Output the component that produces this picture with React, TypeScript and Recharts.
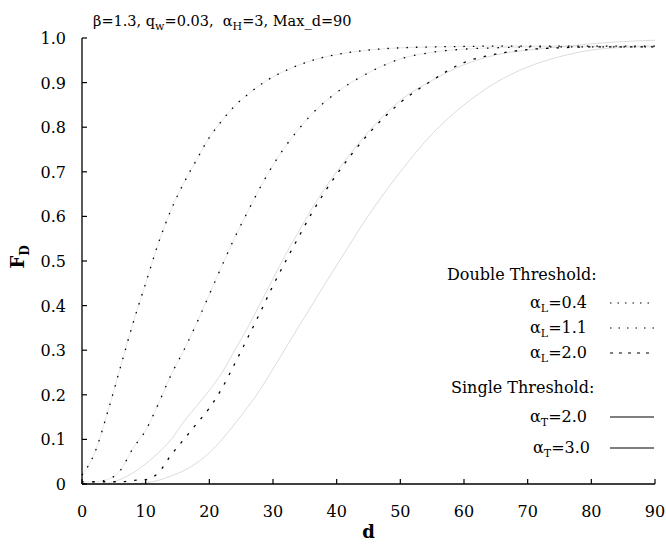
import { LineChart, Line, XAxis, YAxis, Legend } from "recharts";

const SERIF = "DejaVu Serif, serif";

// distance d (x axis)
const dValues = [0, 2, 4, 6, 8, 10, 12, 14, 16, 18, 20, 22, 24, 26, 28, 30, 32, 34, 36, 38, 40, 45, 50, 55, 60, 65, 70, 75, 80, 85, 90];

// double threshold
const alphaL04 = [0.02, 0.07, 0.16, 0.26, 0.36, 0.45, 0.54, 0.615, 0.675, 0.727, 0.777, 0.815, 0.848, 0.873, 0.895, 0.913, 0.927, 0.939, 0.949, 0.957, 0.963, 0.973, 0.978, 0.98, 0.981, 0.982, 0.982, 0.982, 0.982, 0.982, 0.982];
const alphaL11 = [0.005, 0.005, 0.01, 0.03, 0.08, 0.12, 0.18, 0.245, 0.3, 0.36, 0.425, 0.49, 0.553, 0.61, 0.665, 0.715, 0.758, 0.795, 0.828, 0.855, 0.878, 0.922, 0.953, 0.968, 0.975, 0.978, 0.98, 0.98, 0.98, 0.98, 0.98];
const alphaL20 = [0, 0.005, 0.005, 0.005, 0.008, 0.01, 0.025, 0.065, 0.1, 0.135, 0.17, 0.215, 0.27, 0.327, 0.385, 0.445, 0.5, 0.553, 0.605, 0.652, 0.694, 0.785, 0.855, 0.905, 0.945, 0.964, 0.974, 0.978, 0.98, 0.98, 0.98];

// single threshold
const alphaT20 = [0, 0, 0.002, 0.01, 0.025, 0.045, 0.07, 0.1, 0.14, 0.175, 0.21, 0.25, 0.3, 0.35, 0.405, 0.46, 0.515, 0.565, 0.615, 0.66, 0.7, 0.79, 0.86, 0.905, 0.94, 0.962, 0.973, 0.98, 0.987, 0.992, 0.995];
const alphaT30 = [0, 0, 0, 0, 0, 0.003, 0.008, 0.018, 0.03, 0.047, 0.07, 0.1, 0.135, 0.172, 0.212, 0.258, 0.305, 0.352, 0.398, 0.445, 0.49, 0.602, 0.7, 0.785, 0.85, 0.9, 0.935, 0.958, 0.973, 0.979, 0.982];

const xTicks = [0, 10, 20, 30, 40, 50, 60, 70, 80, 90];
const yTicks = [0, 0.1, 0.2, 0.3, 0.4, 0.5, 0.6, 0.7, 0.8, 0.9, 1.0];

const data = dValues.map((d, i) => ({
  d,
  l04: alphaL04[i],
  l11: alphaL11[i],
  l20: alphaL20[i],
  t20: alphaT20[i],
  t30: alphaT30[i],
}));

function XTick({ x, y, payload }: any) {
  return (
    <g>
      <line x1={x} x2={x} y1={y} y2={y - 5} stroke="#000" strokeWidth={1.2} />
      <text x={x} y={y + 33} textAnchor="middle" style={{ fontFamily: SERIF }} fontSize={16} fill="#000">
        {payload.value}
      </text>
    </g>
  );
}

function YTick({ x, y, payload }: any) {
  const v = payload.value;
  return (
    <g>
      <line x1={x} x2={x + 5} y1={y} y2={y} stroke="#000" strokeWidth={1.2} />
      <text x={x - 16} y={y + 6} textAnchor="end" style={{ fontFamily: SERIF }} fontSize={16} fill="#000">
        {v === 0 ? "0" : v.toFixed(1)}
      </text>
    </g>
  );
}

function Sample({ dash }: { dash?: string }) {
  return (
    <svg width={46} height={6} style={{ position: "absolute", left: 609, top: -3 }}>
      <line x1={1} x2={45} y1={3} y2={3} stroke="#000" strokeWidth={1.2} strokeDasharray={dash} />
    </svg>
  );
}

function Row({ cy, right, children, dash }: any) {
  return (
    <div style={{ position: "absolute", top: cy, left: 0, width: 666 }}>
      <div style={{ position: "absolute", right: 666 - right, top: -12, lineHeight: "24px", whiteSpace: "nowrap" }}>
        {children}
      </div>
      <Sample dash={dash} />
    </div>
  );
}

const subStyle = { fontSize: 11, verticalAlign: "-4px", lineHeight: 0 } as const;

function LegendBox() {
  return (
    <div style={{ position: "relative", width: 666, height: 544, fontFamily: SERIF, fontSize: 16, color: "#000" }}>
      <div style={{ position: "absolute", left: 447, top: 263, lineHeight: "24px" }}>Double Threshold:</div>
      <Row cy={303} right={587} dash="1.5 6">
        α<span style={subStyle}>L</span>=0.4
      </Row>
      <Row cy={328} right={587} dash="1.5 7">
        α<span style={subStyle}>L</span>=1.1
      </Row>
      <Row cy={353} right={587} dash="3 6">
        α<span style={subStyle}>L</span>=2.0
      </Row>
      <div style={{ position: "absolute", left: 451, top: 376, lineHeight: "24px" }}>Single Threshold:</div>
      <Row cy={417} right={587}>
        α<span style={subStyle}>T</span>=2.0
      </Row>
      <Row cy={448} right={590}>
        α<span style={subStyle}>T</span>=3.0
      </Row>
    </div>
  );
}

export default function App() {
  return (
    <div style={{ position: "absolute", left: 0, top: 0, width: 666, height: 544, background: "#fff" }}>
      <div
        style={{
          position: "absolute",
          left: 93,
          top: 11,
          fontFamily: SERIF,
          fontSize: 14.5,
          lineHeight: "20px",
          whiteSpace: "pre",
          zIndex: 2,
        }}
      >
        β=1.3, q<span style={subStyle}>w</span>=0.03,  α<span style={subStyle}>H</span>=3, Max_d=90
      </div>
      <LineChart width={666} height={544} data={data} margin={{ top: 38, right: 11, bottom: 4, left: 42 }}>
        <XAxis
          dataKey="d"
          type="number"
          domain={[0, 90]}
          ticks={xTicks}
          tickSize={0}
          tickMargin={0}
          tickLine={false}
          tick={(p: any) => <XTick {...p} />}
          axisLine={{ stroke: "#000", strokeWidth: 1.3 }}
          height={56}
          interval={0}
          label={{ value: "d", position: "insideBottom", offset: 2, fontSize: 18, fontWeight: "bold", style: { fontFamily: SERIF }, fill: "#000" }}
        />
        <YAxis
          type="number"
          domain={[0, 1]}
          ticks={yTicks}
          width={40}
          tickSize={0}
          tickMargin={0}
          tickLine={false}
          interval={0}
          tick={(p: any) => <YTick {...p} />}
          axisLine={{ stroke: "#000", strokeWidth: 1.3 }}
          label={{
            content: () => (
              <text transform="translate(24,257) rotate(-90)" textAnchor="middle" style={{ fontFamily: SERIF }} fontWeight="bold" fontSize={18} fill="#000">
                F<tspan fontSize={12} dy={5}>D</tspan>
              </text>
            ),
          }}
        />
        <Legend
          layout="vertical"
          align="center"
          verticalAlign="middle"
          content={() => <LegendBox />}
          wrapperStyle={{ position: "absolute", left: 0, top: 0, width: 666, height: 544, pointerEvents: "none" }}
        />
        {/* faint traces under the dotted curves */}
        <Line dataKey="l04" type="monotone" stroke="#e8e8e8" strokeWidth={1} dot={false} legendType="none" isAnimationActive={false} />
        <Line dataKey="l11" type="monotone" stroke="#e8e8e8" strokeWidth={1} dot={false} legendType="none" isAnimationActive={false} />
        {/* single threshold */}
        <Line dataKey="t20" name="αT=2.0" type="monotone" stroke="#dcdcdc" strokeWidth={1} dot={false} isAnimationActive={false} />
        <Line dataKey="t30" name="αT=3.0" type="monotone" stroke="#dcdcdc" strokeWidth={1} dot={false} isAnimationActive={false} />
        {/* double threshold */}
        <Line dataKey="l04" name="αL=0.4" type="monotone" stroke="#000" strokeWidth={1.3} strokeDasharray="1.5 8" dot={false} isAnimationActive={false} />
        <Line dataKey="l11" name="αL=1.1" type="monotone" stroke="#000" strokeWidth={1.3} strokeDasharray="1.5 9" dot={false} isAnimationActive={false} />
        <Line dataKey="l20" name="αL=2.0" type="monotone" stroke="#000" strokeWidth={1.3} strokeDasharray="2.5 8" dot={false} isAnimationActive={false} />
      </LineChart>
    </div>
  );
}
